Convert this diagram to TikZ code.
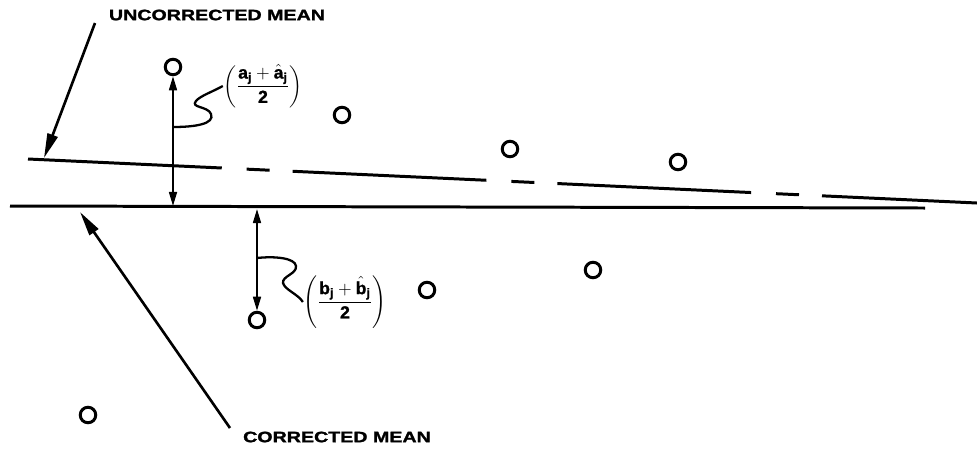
\documentclass[tikz,border=0pt]{standalone}
\usepackage{amsmath}
\usepackage{fontspec}
\setmainfont{Liberation Sans}
\newfontfamily\capfont[FakeStretch=1.3,FakeBold=1.6]{Liberation Sans}
\newfontfamily\fracfont[FakeBold=1.2]{Liberation Sans}
\usepackage{tikz}
\usetikzlibrary{arrows.meta}
\tikzset{
  % regression lines
  meanline/.style  = {line width=1.7pt},
  uncline/.style   = {meanline, dash pattern=on 110.4pt off 14.2pt on 13.1pt off 13.1pt},
  % observations
  obs/.style       = {circle, draw, line width=1.7pt, minimum size=0.31cm, inner sep=0pt},
  % arrows
  devarrow/.style  = {line width=1.1pt, {Triangle[length=8pt,width=4.5pt]}-{Triangle[length=8pt,width=4.5pt]}},
  pointer/.style   = {line width=1.5pt, -{Triangle[length=14pt,width=6pt]}},
  wiggle/.style    = {line width=1.3pt},
  % labels
  meanlab/.style   = {font=\capfont\bfseries\fontsize{8.6}{9}\selectfont, inner sep=0pt},
  fraclab/.style   = {font=\fracfont\bfseries\fontsize{10}{11}\selectfont, inner sep=0pt},
}

\begin{document}
\begin{tikzpicture}[x=0.02cm, y=-0.02cm]
  \useasboundingbox (0,0) rectangle (977,451);
  % mean lines
  \coordinate (cl) at (10,206);
  \coordinate (cr) at (925,208);
  \coordinate (ul) at (28,159);
  \coordinate (ur) at (977,203);
  \draw[meanline] (cl) -- (cr);
  \draw[uncline] (ul) -- (ur);
  % observations
  \node[obs] (p1) at (173,67) {};
  \node[obs] (p2) at (342,115) {};
  \node[obs] (p3) at (510,149) {};
  \node[obs] (p4) at (678,162) {};
  \node[obs] (p5) at (593,270) {};
  \node[obs] (p6) at (427,290) {};
  \node[obs] (p7) at (257,320) {};
  \node[obs] (p8) at (88,415) {};
  % deviations
  \coordinate (d1) at (173,206);
  \coordinate (d7) at (257,209);
  \draw[devarrow] (p1) -- (d1);
  \draw[devarrow] (d7) -- (p7);
  % fraction labels
  \node[fraclab] (fa) at (263,86)
    {$\left(\dfrac{\text{a}_{\text{j}}\mathbin{\mathbf{+}}\hat{\text{a}}_{\text{j}}}{\text{2}}\right)$};
  \node[fraclab] (fb) at (345,302)
    {$\left(\dfrac{\text{b}_{\text{j}}\mathbin{\mathbf{+}}\hat{\text{b}}_{\text{j}}}{\text{2}}\right)$};
  \coordinate (sa) at (173,127);
  \coordinate (sb) at (257,258);
  \draw[wiggle] (sa) .. controls (195,127) and (215,124) .. (211,114)
    .. controls (208,106) and (190,108) .. (196,101)
    .. controls (200,96) and (212,92) .. (fa.west);
  \draw[wiggle] (sb) .. controls (275,256) and (295,258) .. (296,266)
    .. controls (297,274) and (282,276) .. (283,283)
    .. controls (285,290) and (298,294) .. (fb.west);
  % line labels
  \node[meanlab] (unc) at (217,15) {UNCORRECTED MEAN};
  \node[meanlab] (cor) at (337,437) {CORRECTED MEAN};
  \coordinate (ua) at (95,23);
  \coordinate (ut) at (44,158);
  \coordinate (ca) at (230,428);
  \coordinate (ct) at (80,212);
  \draw[pointer] (ua) -- (ut);
  \draw[pointer] (ca) -- (ct);
\end{tikzpicture}
\end{document}
